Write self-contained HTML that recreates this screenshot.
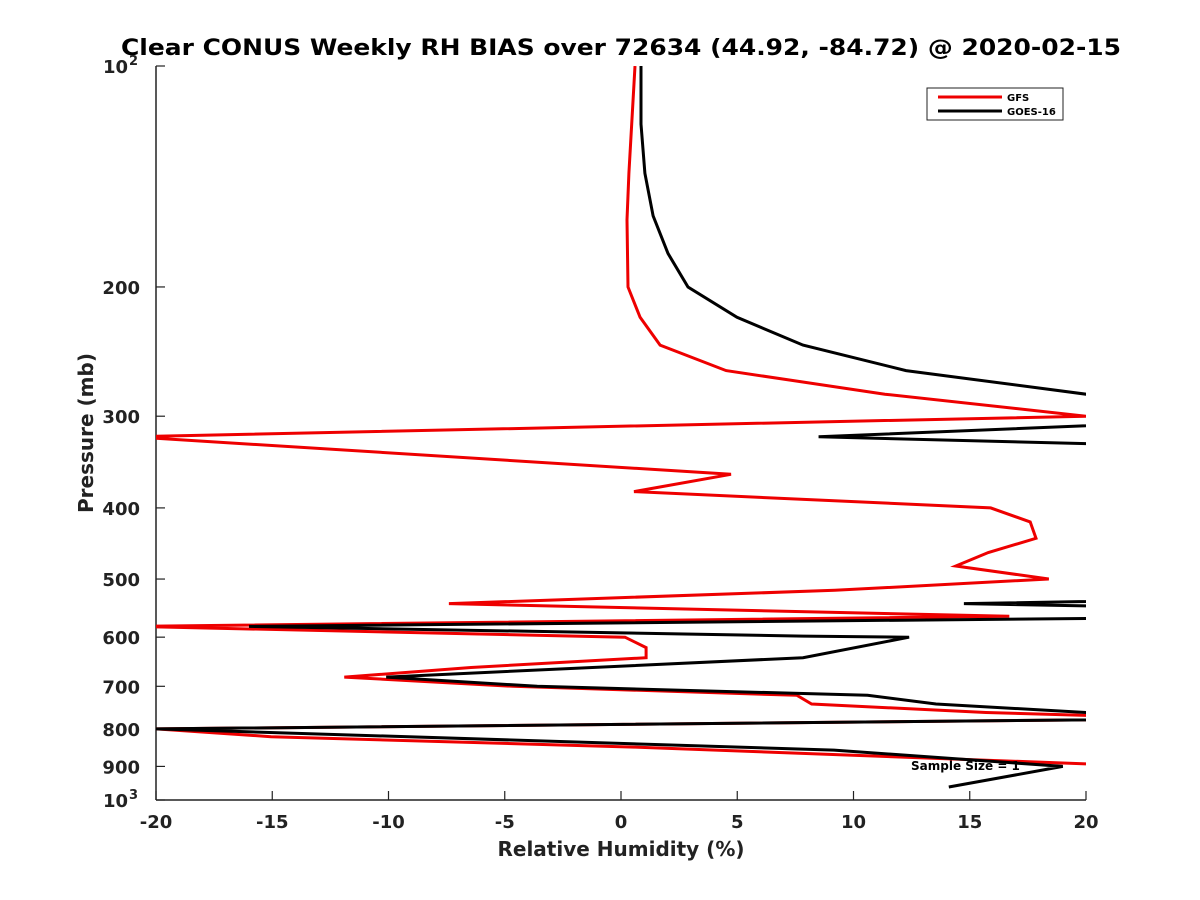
<!DOCTYPE html>
<html><head><meta charset="utf-8"><style>
html,body{margin:0;padding:0;background:#fff;}
svg{display:block;font-family:"DejaVu Sans","Liberation Sans",sans-serif;font-weight:bold;}
</style></head><body>
<svg id="chart" width="1200" height="900" viewBox="0 0 1200 900">
<rect width="1200" height="900" fill="#fff"/>
<text x="621" y="55" text-anchor="middle" font-size="22" fill="#000" textLength="1000" lengthAdjust="spacingAndGlyphs">Clear CONUS Weekly RH BIAS over 72634 (44.92, -84.72) @ 2020-02-15</text>
<defs><clipPath id="plotclip"><rect x="156" y="66" width="930" height="734"/></clipPath></defs>
<g id="axes"></g>
<g id="series" clip-path="url(#plotclip)"></g>
<text x="621" y="856" text-anchor="middle" font-size="20" fill="#222">Relative Humidity (%)</text>
<text transform="translate(93,433) rotate(-90)" text-anchor="middle" font-size="20" fill="#222">Pressure (mb)</text>
<g>
<rect x="927" y="88" width="136" height="32" fill="#fff" stroke="#222" stroke-width="1"/>
<line x1="938" y1="97" x2="1002" y2="97" stroke="#e00" stroke-width="3"/>
<text x="1007" y="101" font-size="10" fill="#000">GFS</text>
<line x1="938" y1="111" x2="1002" y2="111" stroke="#000" stroke-width="3"/>
<text x="1007" y="115" font-size="10" fill="#000">GOES-16</text>
</g>
<text x="911" y="770" font-size="12" fill="#000">Sample Size = 1</text>
</svg>
<script>
const xTicks = [-20,-15,-10,-5,0,5,10,15,20];
const yTicks = [100,200,300,400,500,600,700,800,900,1000];
const yTickLabels = ["10^2","200","300","400","500","600","700","800","900","10^3"];
const gfsPressure = [100,140,162,200,220,240,260,280,300,320,360,380,400,418,440,460,480,500,518,540,562,580,600,620,640,660,680,700,720,740,760,775,800,820,847,893];
const gfsRH = [0.6,0.34,0.26,0.3,0.82,1.68,4.52,11.35,20,-21,4.73,0.56,15.9,17.6,17.85,15.8,14.4,18.4,9.2,-7.4,16.7,-21,0.17,1.08,1.08,-6.45,-11.9,-4.65,7.57,8.2,15.7,25,-20,-15.05,0.56,20];
const goesPressure = [100,120,140,160,180,200,220,240,260,280,300,320,330,400,500,530,540,550,565,580,598,600,640,680,700,720,740,760,775,800,855,900,960];
const goesRH = [0.86,0.86,1.03,1.38,2.02,2.88,4.99,7.83,12.26,20,30,8.5,25,30,30,30,14.75,28,22,-16,7.83,12.39,7.83,-10.1,-3.6,10.6,13.55,20,25,-20,9.16,19.0,14.1];

const NS="http://www.w3.org/2000/svg";
const X0=156,X1=1086,Y0=66,Y1=800;
function xs(v){return X0+(v+20)/40*(X1-X0);}
function ys(p){return Y0+Math.log10(p/100)*(Y1-Y0);}
const axes=document.getElementById('axes');
const series=document.getElementById('series');
function mk(tag,attrs,parent){const e=document.createElementNS(NS,tag);for(const k in attrs)e.setAttribute(k,attrs[k]);parent.appendChild(e);return e;}

let e=mk('line',{x1:X0,y1:Y0,x2:X0,y2:Y1,stroke:'#222','stroke-width':1.5},axes);


e=mk('line',{x1:X0,y1:Y1,x2:X1,y2:Y1,stroke:'#222','stroke-width':1.5},axes);



xTicks.forEach(v=>{
  const x=xs(v);
  let t=mk('line',{x1:x,y1:Y1,x2:x,y2:Y1-9,stroke:'#222','stroke-width':1.2},axes);
  
  
  let l=mk('text',{x:x,y:828,'text-anchor':'middle','font-size':18,fill:'#222'},axes);
  l.textContent=String(v);
  
  
});
yTicks.forEach((p,i)=>{
  const y=ys(p);
  let t=mk('line',{x1:X0,y1:y,x2:X0+9,y2:y,stroke:'#222','stroke-width':1.2},axes);
  
  
  const lab=yTickLabels[i];
  if(lab.indexOf('^')>=0){
    const parts=lab.split('^');
    let l=mk('text',{x:128,y:y+7,'text-anchor':'end','font-size':18,fill:'#222'},axes);
    l.textContent=parts[0];
    
    
    let s=mk('text',{x:129,y:y-1,'font-size':13,fill:'#222'},axes);
    s.textContent=parts[1];
    
    
  } else {
    let l=mk('text',{x:140,y:y+7,'text-anchor':'end','font-size':18,fill:'#222'},axes);
    l.textContent=lab;
    
    
  }
});

function drawLine(P,V,color,name){
  const pts=P.map((p,i)=>xs(V[i]).toFixed(1)+','+ys(p).toFixed(1)).join(' ');
  const pl=mk('polyline',{points:pts,fill:'none',stroke:color,'stroke-width':3,'stroke-linejoin':'miter'},series);
  
  
}
drawLine(gfsPressure,gfsRH,'#e00','gfs-line');
drawLine(goesPressure,goesRH,'#000','goes-16-line');
</script>
</body></html>
